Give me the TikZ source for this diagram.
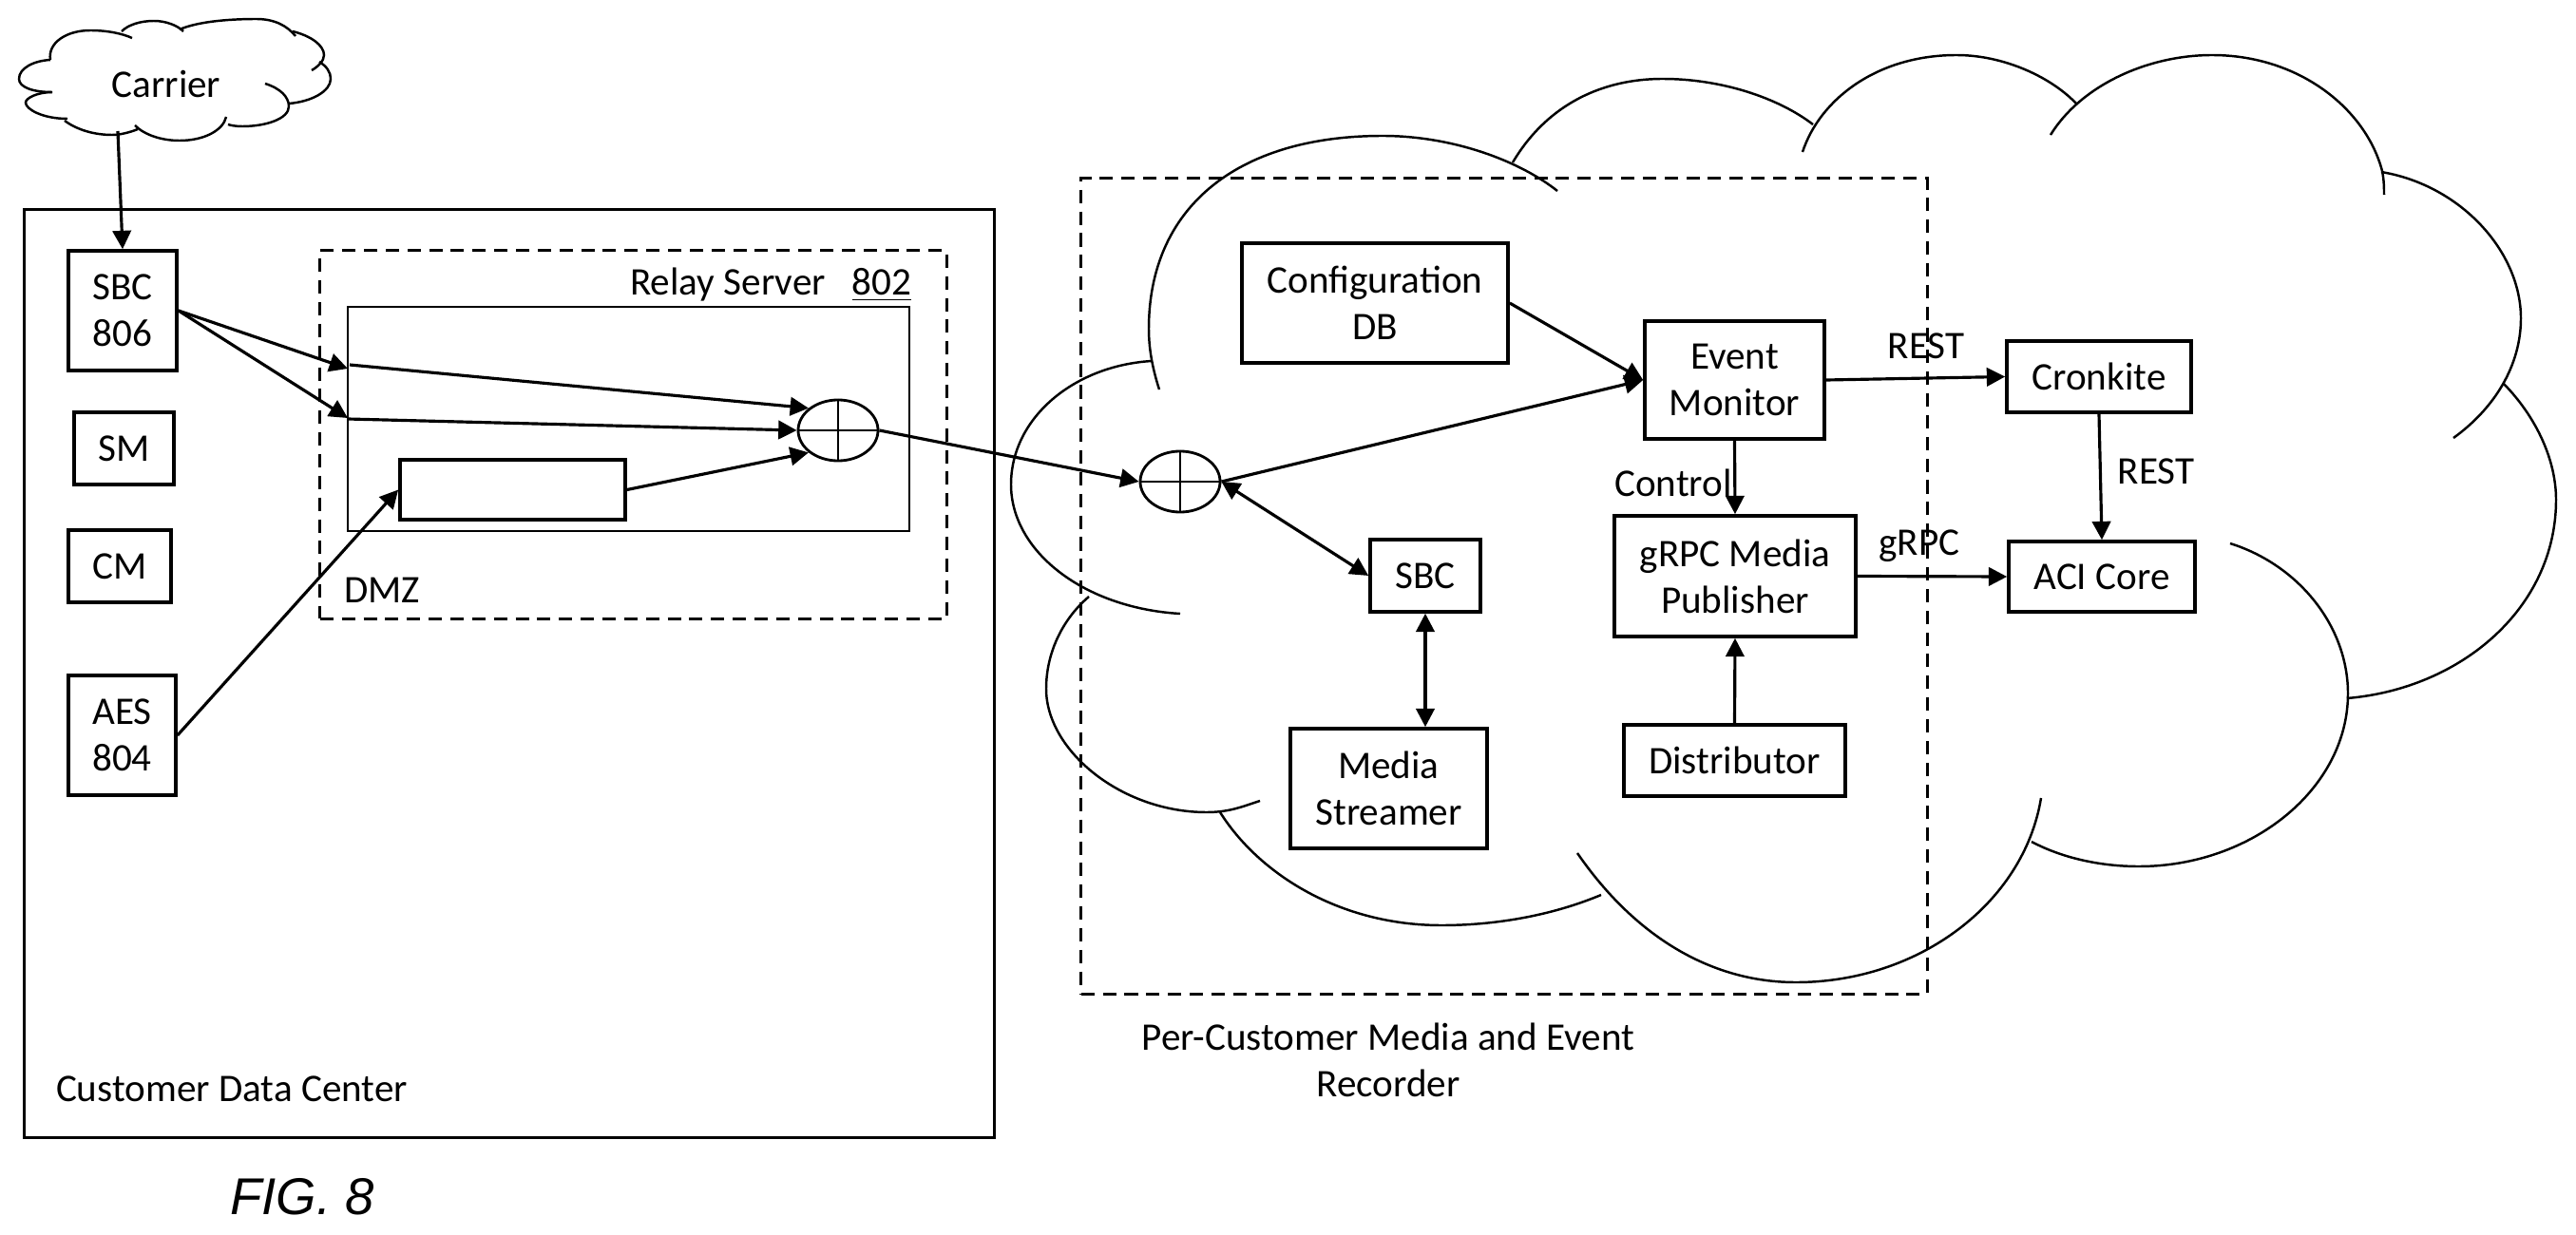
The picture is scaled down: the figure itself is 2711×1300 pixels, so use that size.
\documentclass[tikz,border=0pt]{standalone}
\usepackage{fontspec}
\setmainfont{Carlito}
\newfontfamily\figfont{Liberation Sans}
\usetikzlibrary{arrows.meta,shapes.geometric}
\tikzset{
  box/.style={draw=black,line width=1pt,inner sep=0pt,align=center},
  adder/.style={ellipse,draw=black,line width=0.8pt,minimum width=0.84cm,minimum height=0.64cm,inner sep=0pt},
  arr/.style={line width=0.9pt,-{Triangle[length=5.5pt,width=5.5pt]}},
  dbl/.style={line width=0.9pt,{Triangle[length=5.5pt,width=5.5pt]}-{Triangle[length=5.5pt,width=5.5pt]}},
  lobe/.style={line width=0.7pt},
  lab/.style={inner sep=0pt,align=center},
  dsh/.style={line width=0.9pt,dash pattern=on 4pt off 2.5pt}
}
\begin{document}
\begin{tikzpicture}[x=0.01cm,y=-0.01cm,font=\fontsize{11.7}{14}\selectfont]
\useasboundingbox (0,0) rectangle (2711,1300);

\draw[lobe] (55,97) .. controls (35,97) and (20,92) .. (20,83) .. controls (20,72) and (35,64) .. (53,63);
\draw[lobe] (53,63) .. controls (50,45) and (70,32) .. (95,32) .. controls (112,32) and (128,35) .. (139,40);
\draw[lobe] (128,33) .. controls (135,26) and (148,22) .. (162,22) .. controls (175,22) and (187,27) .. (193,33);
\draw[lobe] (189,31) .. controls (210,22) and (245,20) .. (270,20) .. controls (290,20) and (303,28) .. (311,38);
\draw[lobe] (308,33) .. controls (328,38) and (341,48) .. (341,58) .. controls (341,64) and (335,70) .. (328,74);
\draw[lobe] (336,65) .. controls (344,70) and (348,76) .. (348,83) .. controls (348,96) and (328,107) .. (304,109);
\draw[lobe] (279,88) .. controls (295,93) and (304,102) .. (304,112) .. controls (304,125) and (280,133) .. (255,133) .. controls (248,133) and (243,132) .. (240,131);
\draw[lobe] (238,123) .. controls (235,137) and (215,148) .. (189,148) .. controls (170,148) and (152,142) .. (142,132);
\draw[lobe] (145,136) .. controls (135,140) and (125,142) .. (118,142) .. controls (98,142) and (80,136) .. (68,127);
\draw[lobe] (71,125) .. controls (45,125) and (27,115) .. (27,108) .. controls (27,103) and (40,97) .. (55,97);

\draw[lobe] (1220,410) .. controls (1212,385) and (1209,365) .. (1209,346) .. controls (1209,220) and (1300,143) .. (1455,143) .. controls (1530,143) and (1600,170) .. (1639,201);
\draw[lobe] (1592,171) .. controls (1625,115) and (1680,83) .. (1750,83) .. controls (1810,83) and (1870,102) .. (1908,131);
\draw[lobe] (1897,160) .. controls (1915,105) and (1975,58) .. (2059,58) .. controls (2110,58) and (2160,82) .. (2186,110);
\draw[lobe] (2158,142) .. controls (2190,90) and (2260,58) .. (2328,58) .. controls (2420,58) and (2490,115) .. (2507,180) .. controls (2509,190) and (2509,198) .. (2509,205);
\draw[lobe] (2506,181) .. controls (2590,195) and (2653,265) .. (2653,335) .. controls (2653,385) and (2625,430) .. (2582,461);
\draw[lobe] (2635,404) .. controls (2670,440) and (2690,485) .. (2690,526) .. controls (2690,640) and (2590,725) .. (2470,735);
\draw[lobe] (2347,572) .. controls (2420,595) and (2471,660) .. (2471,730) .. controls (2471,830) and (2370,912) .. (2251,912) .. controls (2210,912) and (2170,903) .. (2138,886);
\draw[lobe] (2148,840) .. controls (2130,950) and (2020,1034) .. (1890,1034) .. controls (1800,1034) and (1720,985) .. (1660,898);
\draw[lobe] (1685,942) .. controls (1630,965) and (1570,974) .. (1517,974) .. controls (1410,974) and (1325,920) .. (1284,855);
\draw[lobe] (1326,843) .. controls (1310,848) and (1295,855) .. (1270,855) .. controls (1180,855) and (1101,790) .. (1101,725) .. controls (1101,685) and (1120,650) .. (1146,628);
\draw[lobe] (1242,646) .. controls (1140,640) and (1064,580) .. (1064,510) .. controls (1064,440) and (1130,385) .. (1212,380);

\node[draw=black,line width=1pt,minimum width=10.2cm,minimum height=9.76cm] (customer) at (536,709) {};
\node[draw=black,dsh,minimum width=6.59cm,minimum height=3.87cm] (dmz) at (666.5,457.5) {};
\node[draw=black,line width=0.5pt,minimum width=5.91cm,minimum height=2.36cm] (relay) at (661.5,441) {};
\node[draw=black,dsh,line width=0.8pt,minimum width=8.9cm,minimum height=8.58cm] (percustomer) at (1583,617) {};

\node[box,minimum width=1.14cm,minimum height=1.26cm] (sbcone) at (129,327) {SBC\\806};
\node[box,minimum width=1.05cm,minimum height=0.76cm] (sm) at (130.5,472) {SM};
\node[box,minimum width=1.08cm,minimum height=0.76cm] (cm) at (126,596) {CM};
\node[box,minimum width=1.13cm,minimum height=1.26cm] (aes) at (128.5,774) {AES\\804};
\node[box,minimum width=2.37cm,minimum height=0.63cm] (buffer) at (539.5,515.5) {};
\node[adder] (adderone) at (882,453) {};
\node[adder] (addertwo) at (1242,507) {};
\draw[line width=0.8pt] (adderone.north) -- (adderone.south);
\draw[line width=0.8pt] (adderone.west) -- (adderone.east);
\draw[line width=0.8pt] (addertwo.north) -- (addertwo.south);
\draw[line width=0.8pt] (addertwo.west) -- (addertwo.east);

\node[box,minimum width=2.8cm,minimum height=1.26cm] (config) at (1447,319) {Configuration\\DB};
\node[box,minimum width=1.89cm,minimum height=1.24cm] (monitor) at (1825.5,400) {Event\\Monitor};
\node[box,minimum width=2.54cm,minimum height=1.27cm] (publisher) at (1826,606.5) {gRPC Media\\Publisher};
\node[box,minimum width=2.33cm,minimum height=0.75cm] (distributor) at (1825.5,800.5) {Distributor};
\node[box,minimum width=1.16cm,minimum height=0.76cm] (sbctwo) at (1500,606) {SBC};
\node[box,minimum width=2.07cm,minimum height=1.26cm] (streamer) at (1461.5,830) {Media\\Streamer};
\node[box,minimum width=1.94cm,minimum height=0.75cm] (cronkite) at (2209,396.5) {Cronkite};
\node[box,minimum width=1.96cm,minimum height=0.74cm] (aci) at (2212,607) {ACI Core};

\coordinate (carrierout) at (124,138);
\coordinate (inone) at (366,388);
\coordinate (intwo) at (366,440);
\coordinate (fromone) at (368,384);
\coordinate (fromtwo) at (366,441);

\draw[arr] (carrierout) -- (sbcone.north);
\draw[arr] (sbcone.east) -- (inone);
\draw[arr] (sbcone.east) -- (intwo);
\draw[arr] (fromone) -- (adderone.143);
\draw[arr] (fromtwo) -- (adderone.west);
\draw[arr] (buffer.east) -- (adderone.217);
\draw[arr] (aes.east) -- (buffer.west);
\draw[arr] (adderone.east) -- (addertwo.west);
\draw[arr] (addertwo.east) -- (monitor.west);
\draw[arr] (config.east) -- (monitor.west);
\draw[dbl] (addertwo.east) -- (sbctwo.west);
\draw[dbl] (sbctwo.south) -- (sbctwo.south |- streamer.north);
\draw[arr] (monitor.south) -- (publisher.north);
\draw[arr] (distributor.north) -- (publisher.south);
\draw[arr] (monitor.east) -- (cronkite.west);
\draw[arr] (publisher.east) -- (aci.west);
\draw[arr] (cronkite.south) -- (aci.north);

\node[lab] (carrier) at (175,88) {Carrier};
\node[lab] (relaylabel) at (766,300) {Relay Server};
\node[lab] (relaynum) at (928,300) {\underline{802}};
\node[lab] (dmzlabel) at (402,621) {DMZ};
\node[lab] (customerlabel) at (244,1146) {Customer Data Center};
\node[lab,font=\figfont\itshape\fontsize{15.5}{18}\selectfont] (figlabel) at (318,1260) {FIG. 8};
\node[lab] (percustomerlabel) at (1461,1116) {Per-Customer Media and Event\\Recorder};
\node[lab] (control) at (1761,508) {Control};
\node[lab] (restone) at (2027,364) {REST};
\node[lab] (resttwo) at (2269,496) {REST};
\node[lab] (grpclabel) at (2020,575) {gRPC};
\end{tikzpicture}
\end{document}
